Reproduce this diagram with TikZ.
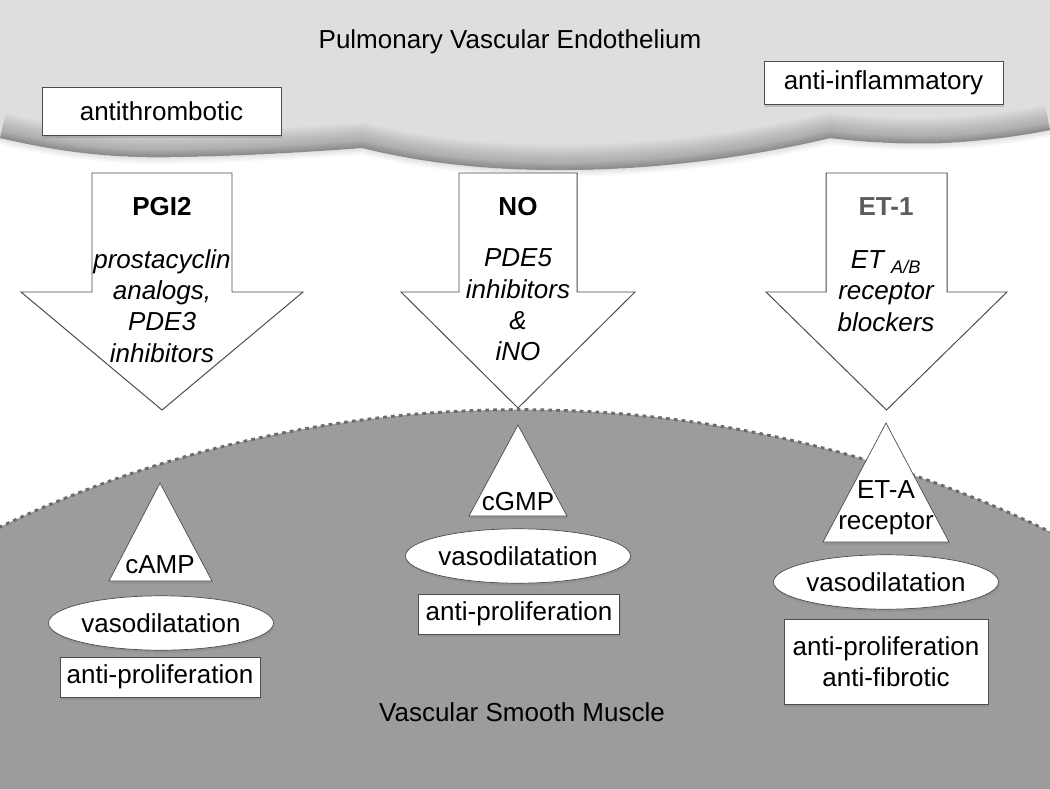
\documentclass[tikz,border=0pt]{standalone}
\usepackage{fontspec}
\setmainfont{Liberation Sans}
\usetikzlibrary{shadows,shapes.geometric}
\definecolor{endo}{gray}{0.87}
\definecolor{muscle}{gray}{0.61}
\definecolor{rim}{gray}{0.42}
\definecolor{outline}{gray}{0.30}
\definecolor{etgray}{gray}{0.36}
\newcommand{\wavyedge}{(0,138) .. controls (60,152) and (110,158) .. (170,157)
  .. controls (250,156) and (320,151) .. (362,148)
  .. controls (420,162) and (480,170) .. (560,170)
  .. controls (680,170) and (780,150) .. (830,138)
  .. controls (870,143) and (920,145) .. (960,142)
  .. controls (1000,139) and (1030,134) .. (1050,130)}

\tikzset{
  txt/.style={font=\fontsize{18.5}{21.8}\selectfont, align=center, inner sep=0pt},
  drug/.style={txt, font=\fontsize{18.5}{22.2}\selectfont\itshape},
  softshadow/.style={drop shadow={shadow xshift=0.8pt,shadow yshift=-1.8pt,opacity=0.35}},
  whitebox/.style={txt, draw=outline, fill=white, line width=0.5pt, softshadow},
  oval/.style={whitebox, ellipse, minimum width=4.7cm, minimum height=1.36cm},
  effect/.style={whitebox, minimum width=5cm, minimum height=1cm},
  bigarrow/.style={draw=outline, fill=white, line width=0.7pt},
  receptor/.style={draw=outline, fill=white, line width=0.5pt, softshadow}
}

\begin{document}
\begin{tikzpicture}[x=0.025cm,y=-0.025cm]
\useasboundingbox (0,0) rectangle (1050,788);
\fill[white] (0,0) rectangle (1050,788);

% smooth muscle
\begin{scope}
\clip (0,0) rectangle (1050,788);
\fill[muscle] (520,1618) circle[radius=30.2cm];
\draw[rim, line width=2.1pt, dash pattern=on 2.6pt off 3pt] (520,1618) circle[radius=30.2cm];
\end{scope}

% endothelium, with a soft rim along its lower edge
\fill[endo] (0,0) -- \wavyedge -- (1050,0) -- cycle;
\begin{scope}
\clip (0,0) -- \wavyedge -- (1050,0) -- cycle;
\foreach \w in {2,4,...,36}
  \draw[black, line width=\w pt, opacity=0.014] \wavyedge;
\end{scope}
\foreach \w in {1,2,...,10}
  \draw[black, line width=\w pt, opacity=0.012] \wavyedge;

\node[txt] (endotitle) at (510,42) {Pulmonary Vascular Endothelium};
\node[whitebox, minimum width=5.975cm, minimum height=1.2cm] (antithromb) at (161.5,111) {antithrombotic};
\node[whitebox, minimum width=5.975cm, minimum height=1.075cm] (antiinfl) at (883.5,82.5) {anti-inflammatory};

% the three pathways
\foreach \cx/\sw/\hw/\tip in {162/70/141/410, 518/59/117/408, 886.5/60.5/120.5/410}
  \draw[bigarrow] ({\cx-\sw},173) -- ({\cx+\sw},173) -- ({\cx+\sw},292) -- ({\cx+\hw},292)
    -- (\cx,\tip) -- ({\cx-\hw},292) -- ({\cx-\sw},292) -- cycle;

\node[txt] (pgi) at (162,207) {\bfseries PGI2};
\node[drug] (pgidrug) at (162,306) {prostacyclin\\analogs,\\PDE3\\inhibitors};
\node[txt] (no) at (518,207) {\bfseries NO};
\node[drug] (nodrug) at (518,305) {PDE5\\inhibitors\\\&\\iNO};
\node[txt, text=etgray] (et) at (886,207) {\bfseries ET-1};
\node[drug] (etdrug) at (886,291) {ET \textsubscript{A/B}\\receptor\\blockers};

% receptors and effects
\draw[receptor] (160,483) -- (212,581) -- (109,581) -- cycle;
\draw[receptor] (518,425) -- (567,516) -- (469,516) -- cycle;
\draw[receptor] (886,423) -- (949,542) -- (823,542) -- cycle;
\node[txt] (camp) at (160,565) {cAMP};
\node[txt] (cgmp) at (518,502) {cGMP};
\node[txt] (eta) at (886,508) {ET-A\\receptor};

\node[oval] (vasoleft) at (161,623) {vasodilatation};
\node[oval] (vasomid) at (518,556) {vasodilatation};
\node[oval] (vasoright) at (886,582) {vasodilatation};

\node[effect] (prolleft) at (160,677) {anti-proliferation};
\node[effect, minimum width=5.025cm] (prolmid) at (519,614) {anti-proliferation};
\node[effect, minimum width=5.1cm, minimum height=2.125cm] (prolright) at (886,662) {anti-proliferation\\anti-fibrotic};

\node[txt] (muscletitle) at (522,712) {Vascular Smooth Muscle};
\end{tikzpicture}
\end{document}
